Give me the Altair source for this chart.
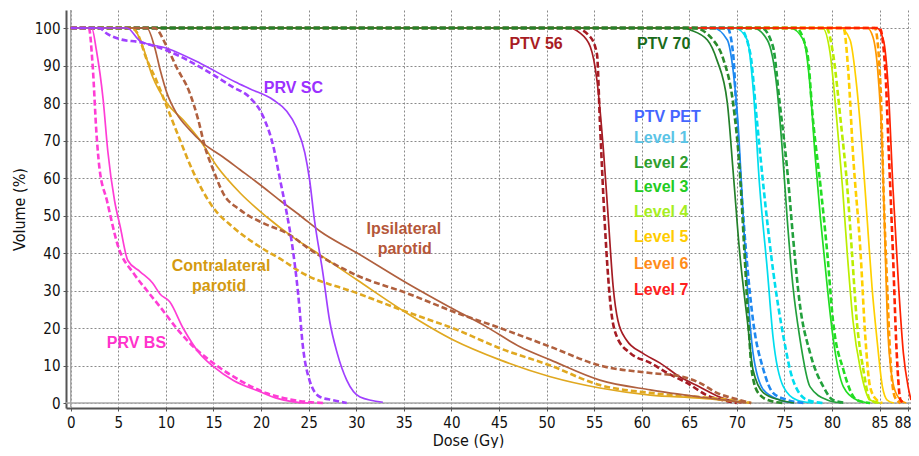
import altair as alt
import pandas as pd

# ---------------- data (dose in Gy, volume in %) ----------------
prv_bs_solid_dose = [0, 2.2, 2.7, 3.4, 3.9, 4.6, 5.2, 6.0, 7.3, 8.6, 9.4, 10.4, 11.8, 13.6, 15.0, 17.1, 19.9, 21.6, 23.4, 25.0]
prv_bs_solid_vol = [100, 100, 94, 81, 67, 54, 47, 38, 35, 32, 29, 27, 20, 13, 9.7, 6, 3, 1.3, 0.3, 0]
prv_bs_dash_dose = [0, 1.9, 2.3, 2.7, 3.0, 3.8, 5.0, 6.6, 8.0, 9.4, 11.1, 12.9, 15.0, 17.8, 20.6, 23.4, 26.5]
prv_bs_dash_vol = [100, 100, 90, 72, 63, 54, 41.6, 34.6, 30, 25.6, 20, 15, 10.6, 6, 2.6, 0.8, 0]

prv_sc_solid_dose = [0, 5.9, 7.3, 10.1, 13.6, 17.3, 18.8, 21.3, 22.7, 23.7, 24.6, 25.1, 25.6, 26.5, 27.2, 28.0, 29.0, 30.4, 32.8]
prv_sc_solid_vol = [100, 100, 96.5, 94.6, 90.6, 85.6, 83.8, 80.8, 77.8, 73.6, 66.7, 59.5, 49, 34.6, 22, 13.3, 6.1, 1.6, 0.2]
prv_sc_dash_dose = [0, 3.0, 3.8, 5.2, 7.3, 10.1, 14.0, 17.0, 18.8, 20.2, 21.3, 22.0, 22.7, 23.3, 23.9, 24.4, 25.1, 26.2, 27.5, 29.0]
prv_sc_dash_vol = [100, 100, 98.5, 97, 96.2, 94, 89, 84.3, 81.5, 76.5, 68.3, 59.5, 50.6, 41.6, 29, 15, 6, 1.6, 0.8, 0]

contra_solid_dose = [0, 6.5, 7.5, 8.6, 10.1, 11.8, 13.6, 15.4, 17.8, 20.6, 23.3, 25.9, 30.1, 35.3, 40.2, 45.1, 50.4, 55.6, 60.9, 66.1, 70.3, 71.5]
contra_solid_vol = [100, 100, 95.5, 87, 80, 75.5, 70, 63, 56, 49.6, 44.3, 40, 32.8, 24, 16.8, 11.5, 7, 4, 2.1, 1.3, 0.3, 0]
contra_dash_dose = [0, 6.3, 6.9, 8.0, 9.0, 10.1, 11.5, 12.8, 15.0, 17.0, 19.9, 22.3, 24.1, 30.1, 35.3, 40.6, 45.1, 50.4, 55.6, 60.9, 66.1, 70.3, 71.5]
contra_dash_vol = [100, 100, 99, 91.5, 86, 79, 70, 62, 52, 47, 41.6, 38, 35, 29.3, 24.3, 19.5, 14.6, 10, 4.8, 2.7, 1.6, 0.5, 0]

ipsi_solid_dose = [0, 8.0, 8.8, 9.4, 10.1, 11.1, 12.5, 13.9, 16.0, 17.8, 19.9, 22.0, 24.1, 26.2, 30.1, 35.3, 39.8, 43.7, 47.2, 50.4, 55.6, 60.9, 66.1, 69.6, 71.0]
ipsi_solid_vol = [100, 100, 95, 88.8, 82.7, 77.3, 72.8, 69.3, 65.6, 62.2, 58.2, 54, 50, 45.8, 40, 32, 25.6, 20.3, 15, 11.5, 6.1, 3.5, 1.6, 0.5, 0]
ipsi_dash_dose = [0, 8.8, 10.1, 11.1, 12.5, 13.4, 14.1, 15.0, 16.0, 17.8, 20.2, 22.7, 25.4, 30.1, 35.3, 40.6, 45.1, 50.4, 55.6, 60.9, 64.3, 66.0, 67.9, 70.3, 71.5]
ipsi_dash_vol = [100, 100, 95, 89.6, 82.7, 75.5, 68.3, 62, 56, 51.5, 48, 45.3, 40.5, 34, 29.3, 24, 20, 15, 10, 8, 7, 5.5, 2.7, 0.8, 0]

ptv56_solid_dose = [0, 52.3, 53.5, 54.6, 55.3, 56.0, 56.5, 57.0, 57.5, 58.4, 60.1, 61.9, 64.0, 66.1, 68.2, 69.6, 70.5]
ptv56_solid_vol = [100, 100, 98.7, 95, 86, 66.7, 48.8, 31, 22, 16.8, 13.3, 10.7, 7, 4.3, 1.6, 0.5, 0]
ptv56_dash_dose = [0, 53.0, 54.6, 55.3, 55.6, 56.1, 56.7, 57.4, 58.8, 60.9, 62.7, 64.8, 66.9, 69.0, 70.0]
ptv56_dash_vol = [100, 100, 97.6, 93, 75.5, 48.8, 26.7, 17.6, 13.3, 10.7, 8, 5.3, 2, 0.5, 0]

ptv70_solid_dose = [0, 64.5, 65.1, 66.9, 67.9, 69.0, 69.6, 70.3, 71.1, 71.7, 72.8, 74.5, 76.0]
ptv70_solid_vol = [100, 100, 99.5, 96.8, 91.5, 80, 62, 40, 22, 8.8, 2.7, 0.8, 0]
ptv70_dash_dose = [0, 65.5, 67.5, 68.6, 69.6, 70.3, 70.8, 71.2, 71.6, 72.3, 73.5, 75.0]
ptv70_dash_vol = [100, 100, 96.8, 91.5, 80, 62, 40, 22, 8, 2.5, 0.6, 0]

ptvpet_solid_dose = [0, 67.5, 69.0, 69.6, 70.1, 70.5, 71.1, 71.7, 72.8, 74.5, 76.0]
ptvpet_solid_vol = [100, 100, 96.8, 88.8, 75.5, 57.6, 31, 13.3, 3.5, 0.8, 0]
ptvpet_dash_dose = [0, 69.0, 69.6, 70.0, 70.7, 71.7, 72.8, 73.8, 75.3, 77.0]
ptvpet_dash_vol = [100, 100, 93.3, 75.5, 48.8, 22, 8.8, 2.7, 0.8, 0]

lvl1_solid_dose = [0, 69.8, 71.1, 71.7, 72.4, 73.2, 73.8, 74.9, 76.3, 78.0]
lvl1_solid_vol = [100, 100, 96.8, 84.3, 57.6, 35.5, 17.6, 4.3, 0.8, 0]
lvl1_dash_dose = [0, 70.3, 71.4, 72.1, 72.8, 73.8, 74.9, 75.9, 77.4, 79.0]
lvl1_dash_vol = [100, 100, 93.3, 75.5, 57.6, 35.5, 17.6, 6.1, 0.8, 0]

lvl2_solid_dose = [0, 71.7, 73.2, 74.2, 74.8, 75.3, 75.9, 76.6, 77.7, 79.5, 81.0]
lvl2_solid_vol = [100, 100, 96.8, 84.3, 66.7, 48.8, 31, 17.6, 4.3, 0.8, 0]
lvl2_dash_dose = [0, 72.6, 73.8, 74.5, 75.3, 75.9, 76.6, 77.7, 79.1, 80.1, 81.5]
lvl2_dash_vol = [100, 100, 95, 80, 62, 44.3, 26.7, 13.3, 4.3, 0.8, 0]

lvl3_solid_dose = [0, 75.6, 77.0, 77.7, 78.2, 78.8, 79.5, 80.1, 81.2, 82.6, 84.0]
lvl3_solid_vol = [100, 100, 96.8, 84.3, 66.7, 48.8, 31, 17.6, 4.3, 0.8, 0]
lvl3_dash_dose = [0, 76.2, 77.4, 78.0, 78.8, 79.5, 80.1, 81.2, 82.6, 84.0]
lvl3_dash_vol = [100, 100, 93.3, 75.5, 57.6, 40, 22, 8.8, 0.8, 0]

lvl4_solid_dose = [0, 79.0, 79.8, 80.5, 81.1, 81.6, 82.2, 83.0, 84.0, 85.0]
lvl4_solid_vol = [100, 100, 93.3, 75.5, 57.6, 40, 22, 8.8, 0.8, 0]
lvl4_dash_dose = [0, 79.4, 80.1, 80.9, 81.6, 82.1, 82.6, 83.3, 84.0, 85.0]
lvl4_dash_vol = [100, 100, 93.3, 75.5, 57.6, 40, 22, 8.8, 0.8, 0]

lvl5_solid_dose = [0, 80.9, 81.9, 82.6, 83.2, 83.7, 84.2, 84.7, 85.3, 85.8, 86.5]
lvl5_solid_vol = [100, 100, 96.8, 84.3, 66.7, 48.8, 31, 17.6, 4.3, 0.8, 0]
lvl5_dash_dose = [0, 81.2, 81.7, 82.2, 83.0, 83.5, 84.0, 84.7, 85.3]
lvl5_dash_vol = [100, 100, 88.8, 66.7, 40, 17.6, 4.3, 0.8, 0]

lvl6_solid_dose = [0, 83.7, 84.3, 84.8, 85.3, 85.6, 85.9, 86.5, 87.2, 87.8]
lvl6_solid_vol = [100, 100, 97.6, 88.8, 66.7, 40, 17.6, 4.3, 0.8, 0]
lvl6_dash_dose = [0, 84.5, 85.1, 85.4, 85.8, 86.1, 86.6, 87.2]
lvl6_dash_vol = [100, 100, 84.3, 57.6, 31, 13.3, 1.6, 0]

lvl7_solid_dose = [0, 84.7, 85.4, 85.9, 86.4, 87.0, 87.5, 88.0, 88.3]
lvl7_solid_vol = [100, 100, 96.8, 84.3, 57.6, 31, 13.3, 4.3, 0.8]
lvl7_dash_dose = [0, 85.0, 85.6, 85.9, 86.4, 86.8, 87.2, 87.6]
lvl7_dash_vol = [100, 100, 88.8, 71, 40, 13.3, 0.8, 0]

# label texts and anchor points (dose, volume)
center_labels = ["PRV BS", "PRV SC", "Contralateral", "parotid", "Ipsilateral", "parotid ", "PTV 56", "PTV 70"]
center_label_dose = [6.9, 23.4, 15.8, 15.6, 35.0, 35.1, 48.9, 62.3]
center_label_vol = [16.0, 84.0, 36.5, 31.2, 46.4, 41.0, 95.7, 95.7]
center_label_color = ["#FF33CC", "#9B30FF", "#D49A10", "#D49A10", "#B5573A", "#B5573A", "#A81C24", "#1A6B1A"]

left_labels = ["PTV PET", "Level 1", "Level 2", "Level 3", "Level 4", "Level 5", "Level 6", "Level 7"]
left_label_vol = [76.3, 70.7, 64.0, 57.6, 50.9, 44.3, 37.1, 30.1]
left_label_dose = [59.2] * 8
left_label_color = ["#4466FF", "#5BC4E6", "#2E9E2E", "#22CC22", "#A6EE22", "#FFCC00", "#FF8C1A", "#FF2020"]

x_ticks = [0, 5, 10, 15, 20, 25, 30, 35, 40, 45, 50, 55, 60, 65, 70, 75, 80, 85, 88]
y_ticks = [0, 10, 20, 30, 40, 50, 60, 70, 80, 90, 100]

# ---------------- chart ----------------
TICK_FONT = "DejaVu Sans Condensed, DejaVu Sans"
xscale = alt.Scale(domain=[-0.5, 88.3], nice=False, zero=False)
yscale = alt.Scale(domain=[-1.33, 104.8], nice=False, zero=False)
xaxis = alt.Axis(values=x_ticks, title="Dose (Gy)", grid=True, gridDash=[2, 2], gridColor="#8a8a8a",
                 gridWidth=1, labelFont=TICK_FONT, labelFontSize=15, labelColor="#111",
                 labelAlign={"condition": {"test": "datum.value == 88", "value": "right"}, "value": "center"},
                 labelOffset={"condition": {"test": "datum.value == 88", "value": 3}, "value": 0},
                 titleFont=TICK_FONT, titleFontSize=16, titleFontWeight="normal", titleColor="#111",
                 titleX=402, titlePadding=2, tickSize=3, tickColor="#555", domainColor="#555",
                 domainWidth=2, labelPadding=4, labelFlush=False)
yaxis = alt.Axis(values=y_ticks, title="Volume (%)", grid=True, gridDash=[2, 2], gridColor="#8a8a8a",
                 gridWidth=1, labelFont=TICK_FONT, labelFontSize=15, labelColor="#111",
                 titleFont=TICK_FONT, titleFontSize=16, titleFontWeight="normal", titleColor="#111",
                 titlePadding=7, tickSize=3, tickColor="#555", domainColor="#555", domainWidth=2,
                 labelPadding=3)

X = alt.X("dose:Q", scale=xscale, axis=xaxis)
Y = alt.Y("vol:Q", scale=yscale, axis=yaxis)

base = alt.Chart(pd.DataFrame({"dose": [0.0], "vol": [0.0]}))
rule_x0 = base.mark_rule(color="#a8a8a8", strokeWidth=1.5).encode(x=X)
rule_y0 = base.mark_rule(color="#a8a8a8", strokeWidth=1.5).encode(y=Y)

curves = [
    # (dose, vol, colour, dashed)  -- drawing order bottom to top
    (ptv56_dash_dose, ptv56_dash_vol, "#A51C24", True),
    (ptv56_solid_dose, ptv56_solid_vol, "#A51C24", False),
    (lvl6_dash_dose, lvl6_dash_vol, "#FF9900", True),
    (lvl6_solid_dose, lvl6_solid_vol, "#FF9900", False),
    (lvl5_dash_dose, lvl5_dash_vol, "#FFD000", True),
    (lvl5_solid_dose, lvl5_solid_vol, "#FFD000", False),
    (lvl4_dash_dose, lvl4_dash_vol, "#BBEE00", True),
    (lvl4_solid_dose, lvl4_solid_vol, "#BBEE00", False),
    (lvl3_dash_dose, lvl3_dash_vol, "#22DD22", True),
    (lvl3_solid_dose, lvl3_solid_vol, "#22DD22", False),
    (lvl2_dash_dose, lvl2_dash_vol, "#22A03C", True),
    (lvl2_solid_dose, lvl2_solid_vol, "#22A03C", False),
    (lvl1_dash_dose, lvl1_dash_vol, "#00DDEE", True),
    (lvl1_solid_dose, lvl1_solid_vol, "#00DDEE", False),
    (ptvpet_dash_dose, ptvpet_dash_vol, "#1E88F0", True),
    (ptvpet_solid_dose, ptvpet_solid_vol, "#1E88F0", False),
    (lvl7_dash_dose, lvl7_dash_vol, "#FF2200", True),
    (lvl7_solid_dose, lvl7_solid_vol, "#FF2200", False),
    (ptv70_dash_dose, ptv70_dash_vol, "#2A8A2A", True),
    (ptv70_solid_dose, ptv70_solid_vol, "#23802A", False),
    (prv_bs_dash_dose, prv_bs_dash_vol, "#FF3DD5", True),
    (prv_bs_solid_dose, prv_bs_solid_vol, "#FF3DD5", False),
    (contra_dash_dose, contra_dash_vol, "#E0A820", True),
    (contra_solid_dose, contra_solid_vol, "#E0A820", False),
    (ipsi_dash_dose, ipsi_dash_vol, "#B0603E", True),
    (ipsi_solid_dose, ipsi_solid_vol, "#B0603E", False),
    (prv_sc_dash_dose, prv_sc_dash_vol, "#A040FF", True),
    (prv_sc_solid_dose, prv_sc_solid_vol, "#A040FF", False),
]

layers = [rule_x0, rule_y0]
for d, v, col, dashed in curves:
    df = pd.DataFrame({"dose": d, "vol": v, "i": list(range(len(d)))})
    if dashed:
        mk = alt.Chart(df).mark_line(color=col, strokeWidth=2.6, strokeDash=[6, 3], interpolate="monotone")
    else:
        mk = alt.Chart(df).mark_line(color=col, strokeWidth=1.7, interpolate="monotone")
    layers.append(mk.encode(x=X, y=Y, order="i:Q"))

cdf = pd.DataFrame({"text": center_labels, "dose": center_label_dose, "vol": center_label_vol,
                    "color": center_label_color})
ldf = pd.DataFrame({"text": left_labels, "dose": left_label_dose, "vol": left_label_vol,
                    "color": left_label_color})
text_c = alt.Chart(cdf).mark_text(align="center", baseline="middle", font="Liberation Sans",
                                  fontWeight="bold", fontSize=16).encode(
    x=X, y=Y, text="text:N", color=alt.Color("color:N", scale=None))
text_l = alt.Chart(ldf).mark_text(align="left", baseline="middle", font="Liberation Sans",
                                  fontWeight="bold", fontSize=16).encode(
    x=X, y=Y, text="text:N", color=alt.Color("color:N", scale=None))
layers += [text_c, text_l]

chart = alt.layer(*layers).properties(
    width=845, height=398,
    autosize=alt.AutoSizeParams(type="none"),
    padding={"left": 58, "top": 2, "right": 0, "bottom": 40},
    background="white",
).configure_view(stroke=None)

chart.save("out.html", embed_options={"renderer": "svg", "actions": False})
